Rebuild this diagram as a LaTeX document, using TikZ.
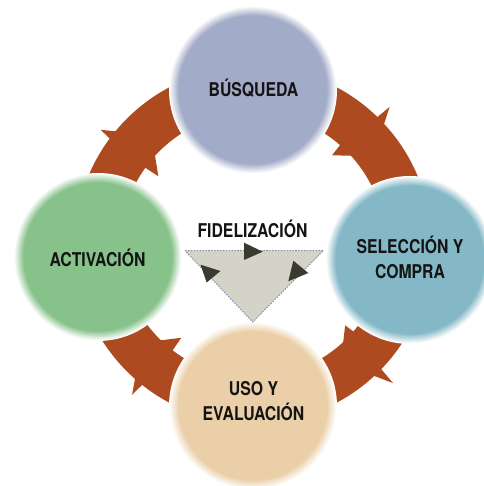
\documentclass[tikz,border=0pt]{standalone}
\usepackage{fontspec}
\newfontfamily\labfont[FakeStretch=0.83]{TeX Gyre Heros}
\definecolor{brn}{HTML}{AD4A1F}
\definecolor{cbusc}{HTML}{A2ABC8}
\definecolor{cselc}{HTML}{85B8C7}
\definecolor{cusoc}{HTML}{EBCFA8}
\definecolor{cactc}{HTML}{86C28A}
\definecolor{tri}{HTML}{D3D3C8}
\definecolor{trb}{HTML}{8C8CA8}
\definecolor{dk}{HTML}{3A3A2E}
\definecolor{txt}{HTML}{141414}
\newcommand\softdisc[2]{%
  \foreach \i in {0,...,12}{%
    \pgfmathsetmacro\pc{100*\i/12}%
    \fill[#2!\pc!white] (#1) circle[radius=84-0.8*\i];}}
\newcommand\spikes[4]{%
  \fill[brn] (#1+0.6:176) -- (#1:#2+2) -- (#1-3.0:176) -- cycle;
  \fill[brn] (#3+0.4:134.5) -- (#3:#4-2) -- (#3-7.0:134.5) -- cycle;}
\begin{document}
\begin{tikzpicture}[x=1pt,y=1pt,
  lab/.style={font=\labfont\bfseries\fontsize{19}{25}\selectfont, text=txt, inner sep=0pt, anchor=base}]
\useasboundingbox (0,0) rectangle (483,486);
\fill[white] (0,0) rectangle (483,486);
% ring
\coordinate (C) at (253,241);
\fill[brn,even odd rule] (C) circle[radius=178.5] (C) circle[radius=132.5];
\begin{scope}[shift={(C)}]
  \spikes{45.3}{192.3}{48.6}{121.5}
  \spikes{-44.6}{194.7}{-41.1}{124.3}
  \spikes{231.1}{190.6}{232.3}{119.3}
  \spikes{142.9}{189}{144.0}{119}
\end{scope}
% circles
\coordinate (cbus) at (253,396);
\coordinate (csel) at (410,226);
\coordinate (cuso) at (253,80);
\coordinate (cact) at (98,229);
\softdisc{cbus}{cbusc}
\softdisc{csel}{cselc}
\softdisc{cuso}{cusoc}
\softdisc{cact}{cactc}
% centre triangle
\coordinate (tA) at (185,235.3);
\coordinate (tB) at (323.3,235.3);
\coordinate (tC) at (252.7,164);
\filldraw[fill=tri, draw=trb, line width=0.9pt, dash pattern=on 1.6pt off 1.3pt] (tA) -- (tB) -- (tC) -- cycle;
\fill[dk] (244,243.3) -- (244,226) -- (262.7,234.3) -- cycle;
\fill[dk] (293.3,225.3) -- (288.3,204.7) -- (308.3,213) -- cycle;
\fill[dk] (200.5,221.3) -- (206.7,203.5) -- (220.5,215) -- cycle;
% texts
\node[lab] (tbus) at (253.5,389) {BÚSQUEDA};
\node[lab] (tact) at (97.5,219) {ACTIVACIÓN};
\node[lab] (tfid) at (252.5,248.7) {FIDELIZACIÓN};
\node[lab] (tsel) at (410,207) {\begin{tabular}[b]{@{}c@{}}SELECCIÓN Y\\COMPRA\end{tabular}};
\node[lab] (tuso) at (253.5,65) {\begin{tabular}[b]{@{}c@{}}USO Y\\EVALUACIÓN\end{tabular}};
\end{tikzpicture}
\end{document}
